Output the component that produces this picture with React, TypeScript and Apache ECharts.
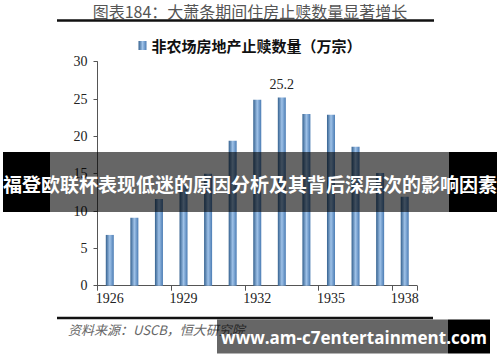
import React, { useEffect, useRef } from "react";
import * as echarts from "echarts";

const years = ["1926", "1927", "1928", "1929", "1930", "1931", "1932", "1933", "1934", "1935", "1936", "1937", "1938"];
const foreclosures = [6.8, 9.1, 11.6, 13.5, 15.0, 19.4, 24.9, 25.2, 23.0, 22.9, 18.6, 15.1, 11.9];
const seriesName = "非农场房地产止赎数量（万宗）";
const chartTitle = "图表184：大萧条期间住房止赎数量显著增长";
const sourceText = "资料来源：USCB，恒大研究院";
const bannerText = "福登欧联杯表现低迷的原因分析及其背后深层次的影响因素";
const watermarkText = "www.am-c7entertainment.com";
const labelledIndex = 7;

export default function App() {
  const ref = useRef<HTMLDivElement>(null);
  useEffect(() => {
    document.body.style.margin = "0";
    const chart = echarts.init(ref.current!, null, { renderer: "svg" });
    const serif = "'Liberation Serif', 'Noto Sans CJK SC', serif";
    const Z = 100;
    chart.setOption({
      animation: false,
      backgroundColor: "#ffffff",
      legend: {
        data: [{ name: seriesName, icon: "rect" }],
        top: 33,
        left: "center",
        itemWidth: 8,
        itemHeight: 9,
        itemGap: 6,
        textStyle: { fontSize: 15, fontWeight: "bold", color: "#111", fontFamily: "'Noto Sans CJK SC', sans-serif" },
      },
      grid: { left: 97.5, right: 83, top: 61.7, bottom: 76.3, containLabel: false },
      xAxis: {
        type: "category",
        data: years,
        boundaryGap: true,
        axisLine: { lineStyle: { color: "#555", width: 1 } },
        axisTick: { show: true, interval: 2, length: 5, lineStyle: { color: "#555" } },
        axisLabel: { interval: 2, fontSize: 14, color: "#222", fontFamily: serif, margin: 6 },
      },
      yAxis: {
        type: "value",
        min: 0,
        max: 30,
        interval: 5,
        splitLine: { show: false },
        axisLine: { show: true, lineStyle: { color: "#555", width: 1 } },
        axisTick: { show: true, length: 4, lineStyle: { color: "#555" } },
        axisLabel: { fontSize: 14, color: "#222", fontFamily: serif, margin: 10 },
      },
      series: [
        {
          name: seriesName,
          type: "bar",
          barWidth: 8,
          data: foreclosures.map((v, i) =>
            i === labelledIndex
              ? { value: v, label: { show: true, position: "top", distance: 6, fontSize: 14, color: "#222", fontFamily: serif } }
              : v
          ),
          itemStyle: {
            color: new echarts.graphic.LinearGradient(0, 0, 1, 0, [
              { offset: 0, color: "#34618f" },
              { offset: 0.5, color: "#9fc2e8" },
              { offset: 1, color: "#4a7bb3" },
            ]),
          },
        },
      ],
      graphic: [
        {
          type: "text",
          left: "center",
          top: 3,
          z: Z,
          style: { text: chartTitle, fontSize: 16, fill: "#555", fontFamily: "'Noto Sans CJK SC', sans-serif" },
        },
        { type: "line", z: Z, shape: { x1: 57, y1: 20.5, x2: 434, y2: 20.5 }, style: { stroke: "#111", lineWidth: 2.5 } },
        { type: "line", z: Z, shape: { x1: 57, y1: 318, x2: 433, y2: 318 }, style: { stroke: "#111", lineWidth: 2.5 } },
        {
          type: "text",
          left: 68,
          top: 323,
          z: Z,
          style: { text: sourceText, fontSize: 13, fontStyle: "italic", fill: "#666", fontFamily: "'Noto Sans CJK SC', sans-serif" },
        },
        { type: "rect", z: Z, shape: { x: 3, y: 152, width: 47, height: 60 }, style: { fill: "#000" } },
        { type: "rect", z: Z, shape: { x: 449, y: 152, width: 48, height: 60 }, style: { fill: "#000" } },
        { type: "rect", z: Z, shape: { x: 50, y: 152, width: 399, height: 60 }, style: { fill: "rgba(0,0,0,0.6)" } },
        {
          type: "text",
          x: 250,
          y: 183,
          z: Z + 1,
          style: {
            text: bannerText,
            fontSize: 19,
            fontWeight: "bold",
            fill: "#fff",
            align: "center",
            verticalAlign: "middle",
            fontFamily: "'Noto Sans CJK SC', sans-serif",
          },
        },
        { type: "rect", z: Z + 2, shape: { x: 217, y: 319.5, width: 231, height: 34 }, style: { fill: "rgba(0,0,0,0.6)" } },
        { type: "rect", z: Z + 2, shape: { x: 448, y: 319.5, width: 42, height: 34 }, style: { fill: "#000" } },
        {
          type: "text",
          x: 354,
          y: 337,
          z: Z + 3,
          style: {
            text: watermarkText,
            fontSize: 17,
            fontWeight: "bold",
            fill: "#fff",
            align: "center",
            verticalAlign: "middle",
            fontFamily: "'Open Sans', 'DejaVu Sans', sans-serif",
          },
        },
      ],
    });
    return () => chart.dispose();
  }, []);
  return <div ref={ref} style={{ position: "absolute", left: 0, top: 0, width: 500, height: 362 }} />;
}
